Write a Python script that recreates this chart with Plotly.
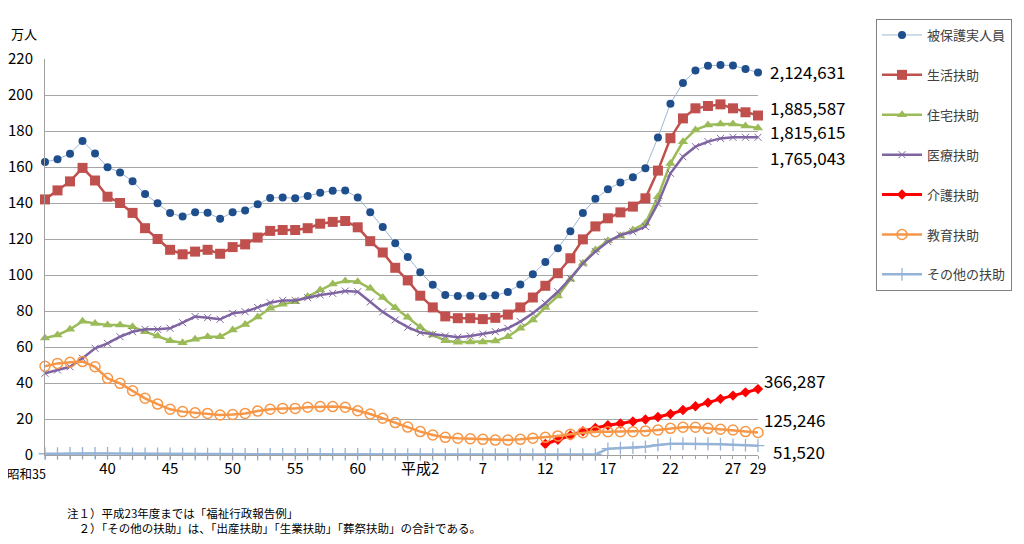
import plotly.graph_objects as go

years = list(range(1960, 2018))

tick_years = [1965, 1970, 1975, 1980, 1985, 1990, 1995, 2000, 2005, 2010, 2015, 2017]
tick_text = ['40', '45', '50', '55', '60', '平成2', '7', '12', '17', '22', '27', '29']

hihogo = [162.8, 164.3, 167.4, 174.5, 167.5, 159.9, 157.0, 152.1, 145.0, 139.9,
          134.4, 132.5, 134.9, 134.6, 131.2, 134.9, 135.8, 139.3, 142.8, 143.0,
          142.7, 143.9, 145.7, 146.8, 146.9, 143.1, 134.8, 126.6, 117.6, 110.0,
          101.5, 94.6, 88.9, 88.3, 88.5, 88.2, 88.7, 90.6, 94.7, 100.4,
          107.2, 114.8, 124.3, 134.4, 142.3, 147.6, 151.4, 154.3, 159.3, 176.4,
          195.2, 206.7, 213.6, 216.2, 216.6, 216.4, 214.5, 212.5]

seikatsu = [142.0, 147.0, 152.0, 159.5, 152.5, 143.5, 140.0, 134.5, 126.0, 120.0,
            114.0, 111.5, 113.0, 114.0, 111.8, 115.5, 117.0, 120.8, 124.5, 125.0,
            125.0, 126.0, 128.5, 129.5, 130.0, 126.5, 118.8, 112.5, 104.0, 97.0,
            88.5, 82.0, 77.0, 76.0, 76.0, 75.5, 76.2, 78.0, 82.0, 87.5,
            94.0, 101.0, 109.3, 119.8, 127.0, 131.5, 134.8, 138.0, 142.6, 158.0,
            176.0, 187.0, 192.6, 193.9, 194.8, 192.6, 190.4, 188.6]

jutaku = [65.0, 66.7, 69.8, 74.3, 73.1, 72.2, 72.2, 71.3, 68.5, 66.1,
          63.5, 62.4, 64.3, 65.7, 65.7, 69.4, 72.5, 76.7, 81.5, 83.7,
          85.2, 88.0, 91.7, 95.0, 96.7, 96.3, 92.6, 87.5, 81.8, 76.5,
          71.0, 66.7, 63.5, 62.6, 62.8, 62.8, 63.3, 65.7, 70.4, 75.0,
          82.0, 88.3, 97.6, 106.5, 113.9, 119.0, 121.7, 125.0, 128.7, 143.5,
          162.0, 174.0, 180.6, 183.3, 183.9, 183.9, 182.8, 181.6]

iryo = [45.4, 47.2, 49.0, 53.7, 59.3, 62.0, 65.7, 68.5, 69.8, 69.8,
        70.4, 73.5, 76.9, 76.3, 75.4, 78.7, 79.6, 82.0, 84.6, 85.9,
        85.9, 87.4, 88.9, 89.8, 91.1, 90.7, 85.0, 79.5, 75.0, 71.0,
        68.0, 67.0, 66.1, 65.4, 66.1, 67.2, 68.5, 70.4, 74.1, 78.7,
        84.3, 90.7, 98.1, 106.5, 113.0, 118.5, 122.2, 124.0, 126.9, 139.8,
        156.5, 165.7, 171.3, 174.1, 175.9, 176.5, 176.5, 176.5]

kaigo = [None] * 40 + [6.1, 8.5, 10.9, 13.2, 15.0, 16.5, 17.5, 18.6, 19.7, 21.1,
                       22.8, 25.0, 27.1, 29.1, 31.2, 33.0, 34.8, 36.6]

kyoiku = [49.3, 50.9, 51.5, 51.9, 49.0, 42.6, 39.8, 35.7, 31.5, 28.3,
          25.4, 24.1, 23.5, 23.1, 22.2, 22.5, 23.1, 24.4, 25.4, 25.9,
          25.9, 26.5, 26.9, 26.9, 26.5, 24.6, 22.8, 20.4, 18.0, 15.5,
          13.0, 11.1, 9.8, 9.3, 9.0, 8.7, 8.3, 8.3, 8.7, 9.3,
          9.8, 10.6, 11.5, 12.4, 12.9, 12.9, 12.9, 12.9, 13.3, 13.9,
          14.8, 15.4, 15.4, 14.8, 14.3, 13.9, 13.0, 12.5]

sonota = [0.7, 0.8, 0.9, 1.0, 1.0, 0.9, 0.8, 0.7, 0.7, 0.6,
          0.6, 0.5, 0.5, 0.5, 0.5, 0.4, 0.4, 0.4, 0.4, 0.4,
          0.4, 0.4, 0.4, 0.4, 0.4, 0.4, 0.3, 0.3, 0.3, 0.3,
          0.3, 0.3, 0.3, 0.3, 0.3, 0.3, 0.3, 0.3, 0.3, 0.3,
          0.3, 0.3, 0.3, 0.3, 0.3, 3.5, 3.8, 4.0, 4.6, 5.6,
          6.2, 6.3, 6.3, 6.2, 6.0, 5.7, 5.4, 5.2]

end_labels = ['2,124,631', '1,885,587', '1,815,615', '1,765,043', '366,287', '125,246', '51,520']
end_label_y = [213.0, 192.8, 180.0, 165.5, 41.5, 20.0, 1.7]
end_label_right = [90, 90, 90, 90, 69, 69, 69]

font = 'Noto Sans CJK JP'

series = [
    ('被保護実人員', hihogo, dict(color='#9DB7D6', width=1),
     dict(symbol='circle', size=8, color='#1F4E8C')),
    ('生活扶助', seikatsu, dict(color='#C0504D', width=2.5),
     dict(symbol='square', size=10, color='#C0504D')),
    ('住宅扶助', jutaku, dict(color='#9BBB59', width=2.5),
     dict(symbol='triangle-up', size=9, color='#9BBB59')),
    ('医療扶助', iryo, dict(color='#7F64A2', width=2.5),
     dict(symbol='x-thin-open', size=7, line=dict(color='#9A88BC', width=1))),
    ('介護扶助', kaigo, dict(color='#FF0000', width=3),
     dict(symbol='diamond', size=8, color='#FF0000')),
    ('教育扶助', kyoiku, dict(color='#F79646', width=2.5),
     dict(symbol='circle-open', size=10, line=dict(color='#F4B27A', width=1.5))),
    ('その他の扶助', sonota, dict(color='#95B3D7', width=2.5),
     dict(symbol='cross-thin-open', size=9, line=dict(color='#95B3D7', width=1.3))),
]

fig = go.Figure()
for i, (name, vals, line, marker) in enumerate(series):
    fig.add_trace(go.Scatter(
        x=years, y=vals, name=name, mode='lines+markers',
        line=line, marker=marker, cliponaxis=False,
        legendgroup=str(i), connectgaps=False
    ))

for txt, yv, xs in zip(end_labels, end_label_y, end_label_right):
    fig.add_annotation(
        x=1, xref='paper', y=yv, yref='y', text=txt, showarrow=False,
        xanchor='right', yanchor='middle', xshift=xs,
        font=dict(family=font, size=17, color='#000000')
    )

fig.add_annotation(
    x=0, xref='paper', y=0, yref='paper', text='昭和35', showarrow=False,
    xanchor='right', yanchor='top', xshift=2, yshift=-8, borderpad=0,
    font=dict(family=font, size=12.5, color='#000000')
)
fig.add_annotation(
    x=0, xref='paper', y=1, yref='paper', text='万人', showarrow=False,
    xanchor='right', yanchor='bottom', xshift=-6, yshift=14,
    font=dict(family=font, size=13, color='#000000')
)
fig.add_annotation(
    x=0.03, xref='paper', y=0, yref='paper', text='注１）平成23年度までは「福祉行政報告例」',
    showarrow=False, xanchor='left', yanchor='top', yshift=-49, borderpad=0,
    font=dict(family=font, size=11.5, color='#000000')
)
fig.add_annotation(
    x=0.03, xref='paper', y=0, yref='paper',
    text='　２）「その他の扶助」は、「出産扶助」「生業扶助」「葬祭扶助」の合計である。',
    showarrow=False, xanchor='left', yanchor='top', yshift=-64, borderpad=0,
    font=dict(family=font, size=11.5, color='#000000')
)

fig.update_xaxes(
    range=[1960, 2017], tickvals=tick_years, ticktext=tick_text,
    showgrid=False, zeroline=False, showline=True, linecolor='#A0A0A0',
    ticks='', automargin=False,
    minor=dict(dtick=1, tick0=1960, ticks='outside', ticklen=3, tickcolor='#A0A0A0'),
    tickfont=dict(family=font, size=15, color='#000000')
)
fig.update_yaxes(
    range=[0, 220], dtick=20, showgrid=True, gridcolor='#A6A6A6', gridwidth=1,
    zeroline=False, showline=True, linecolor='#A0A0A0', automargin=False,
    tickfont=dict(family=font, size=15, color='#000000'), ticks='', ticklabelstandoff=8
)

fig.update_layout(
    width=1008, height=528,
    margin=dict(l=37, r=258, t=51, b=81, autoexpand=False),
    plot_bgcolor='white', paper_bgcolor='white',
    font=dict(family=font),
    legend=dict(
        x=1.1655, y=1.101, xanchor='left', yanchor='top',
        bordercolor='#808080', borderwidth=1, bgcolor='white',
        font=dict(family=font, size=13, color='#404040'),
        tracegroupgap=20, itemwidth=40, maxheight=420
    ),
    showlegend=True
)

fig.write_html('out.html')
